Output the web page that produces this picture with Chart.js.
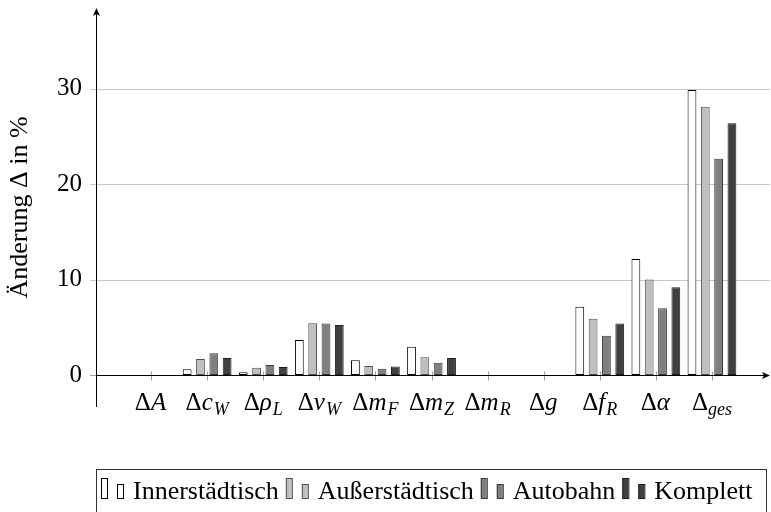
<!DOCTYPE html>
<html>
<head>
<meta charset="utf-8">
<script src="https://cdn.jsdelivr.net/npm/chart.js@4.4.1/dist/chart.umd.min.js"></script>
<style>
  body { margin: 0; background: #fff; }
  canvas { display: block; }
</style>
</head>
<body>
<canvas id="deltaChart" width="771" height="512"></canvas>
<script>
// categories: Delta + symbol + subscript (drawn by hand below the axis)
const categorySymbols = ['A', 'c', 'ρ', 'v', 'm', 'm', 'm', 'g', 'f', 'α', ''];
const categorySubs    = ['', 'W', 'L', 'W', 'F', 'Z', 'R', '', 'R', '', 'ges'];
const categories = categorySymbols.map((s, i) => 'Δ' + s + categorySubs[i]);

const seriesNames = ['Innerstädtisch', 'Außerstädtisch', 'Autobahn', 'Komplett'];
const innerValues = [0, 0.6, 0.28, 3.66, 1.54, 2.97, 0, 0, 7.15, 12.15, 29.85];
const ausserValues = [0, 1.67, 0.77, 5.41, 0.94, 1.85, 0, 0, 5.9, 10.0, 28.1];
const autobahnValues = [0, 2.27, 1.05, 5.4, 0.66, 1.29, 0, 0, 4.1, 7.0, 22.65];
const komplettValues = [0, 1.78, 0.84, 5.24, 0.9, 1.78, 0, 0, 5.4, 9.2, 26.35];

const yTicks = [0, 10, 20, 30];

const fills = ['#ffffff', '#bfbfbf', '#7f7f7f', '#404040'];
const borders = ['#000000', '#505050', '#3a3a3a', '#1e1e1e'];
const FONT = '"Liberation Serif", "DejaVu Serif", serif';

// axes lines, arrows, grid, x labels and the boxed legend
const pgfLook = {
    id: 'pgfLook',
    beforeDatasetsDraw(chart) {
        const c = chart.ctx, y = chart.scales.y;
        c.save();
        c.strokeStyle = '#c8c8c8';
        c.lineWidth = 1;
        yTicks.forEach(v => {
            if (v === 0) return;
            const py = Math.round(y.getPixelForValue(v)) + 0.5;
            c.beginPath(); c.moveTo(90, py); c.lineTo(770, py); c.stroke();
        });
        c.restore();
    },
    afterDatasetsDraw(chart) {
        const c = chart.ctx, x = chart.scales.x, y = chart.scales.y;
        const y0 = Math.round(y.getPixelForValue(0)) + 0.5;
        const ax = 96.5;
        c.save();
        // x ticks (grey)
        c.strokeStyle = '#a0a0a0';
        categories.forEach((_, i) => {
            const px = Math.round(x.getPixelForValue(i)) + 0.5;
            c.beginPath(); c.moveTo(px, y0 - 4); c.lineTo(px, y0 + 5); c.stroke();
        });
        c.beginPath(); c.moveTo(90, y0); c.lineTo(ax, y0); c.stroke();
        // axes
        c.strokeStyle = '#000';
        c.lineWidth = 1;
        c.beginPath(); c.moveTo(ax, 407); c.lineTo(ax, 12); c.stroke();
        c.beginPath(); c.moveTo(ax, y0); c.lineTo(766, y0); c.stroke();
        c.fillStyle = '#000';
        c.beginPath(); c.moveTo(ax, 8); c.lineTo(ax - 3.5, 16); c.lineTo(ax, 14); c.lineTo(ax + 3.5, 16); c.closePath(); c.fill();
        c.beginPath(); c.moveTo(770, y0); c.lineTo(762, y0 - 3.5); c.lineTo(764, y0); c.lineTo(762, y0 + 3.5); c.closePath(); c.fill();

        // x labels with subscripts
        const big = '25px ' + FONT, bigIt = 'italic 25px ' + FONT, small = 'italic 18px ' + FONT;
        c.textBaseline = 'alphabetic';
        c.textAlign = 'left';
        categories.forEach((_, i) => {
            const sym = categorySymbols[i], sub = categorySubs[i];
            c.font = big; const w1 = c.measureText('Δ').width;
            c.font = bigIt; const w2 = sym ? c.measureText(sym).width + 1 : 0;
            c.font = small; const w3 = sub ? c.measureText(sub).width : 0;
            let px = x.getPixelForValue(i) - (w1 + w2 + w3) / 2;
            const base = 410;
            c.font = big; c.fillText('Δ', px, base); px += w1;
            if (sym) { c.font = bigIt; c.fillText(sym, px, base); px += w2; }
            if (sub) { c.font = small; c.fillText(sub, px, base + 5); }
        });

        // legend box (bottom edge falls outside the picture)
        c.strokeStyle = '#333';
        c.strokeRect(96.5, 469.5, 670, 50);
        c.font = '26px ' + FONT;
        let tx = 133;
        chart.data.datasets.forEach((ds, i) => {
            c.fillStyle = ds.backgroundColor;
            c.strokeStyle = ds.borderColor;
            c.fillRect(tx - 32, 478, 6, 21); c.strokeRect(tx - 31.5, 478.5, 6, 20);
            c.fillRect(tx - 16, 484, 6, 15); c.strokeRect(tx - 15.5, 484.5, 6, 14);
            c.fillStyle = '#000';
            c.fillText(ds.label, tx, 499);
            tx += c.measureText(ds.label).width + 39;
        });
        c.restore();
    }
};

const valueSets = [innerValues, ausserValues, autobahnValues, komplettValues];

new Chart(document.getElementById('deltaChart').getContext('2d'), {
    type: 'bar',
    data: {
        labels: categories,
        datasets: valueSets.map((vals, i) => ({
            label: seriesNames[i],
            data: vals,
            backgroundColor: fills[i],
            borderColor: borders[i],
            borderWidth: 1,
            borderSkipped: false,
            categoryPercentage: 0.95,
            barPercentage: 0.66
        }))
    },
    options: {
        responsive: false,
        animation: false,
        layout: { padding: { top: 10, right: 31, bottom: 107, left: 0 } },
        plugins: { legend: { display: false }, tooltip: { enabled: false } },
        scales: {
            x: { display: false, offset: true },
            y: {
                min: -3.14,
                max: 38.22,
                afterBuildTicks(scale) {
                    scale.ticks = yTicks.map(v => ({ value: v }));
                },
                afterFit(scale) { scale.width = 123; },
                grid: { display: false, drawTicks: true, tickLength: 41 },
                border: { display: false },
                ticks: {
                    padding: 0,
                    color: '#000',
                    font: { family: FONT, size: 25, lineHeight: 0.8 }
                },
                title: {
                    display: true,
                    text: 'Änderung Δ in %',
                    color: '#000',
                    padding: { top: 5, bottom: 0 },
                    font: { family: FONT, size: 26 }
                }
            }
        }
    },
    plugins: [pgfLook]
});
</script>
</body>
</html>
